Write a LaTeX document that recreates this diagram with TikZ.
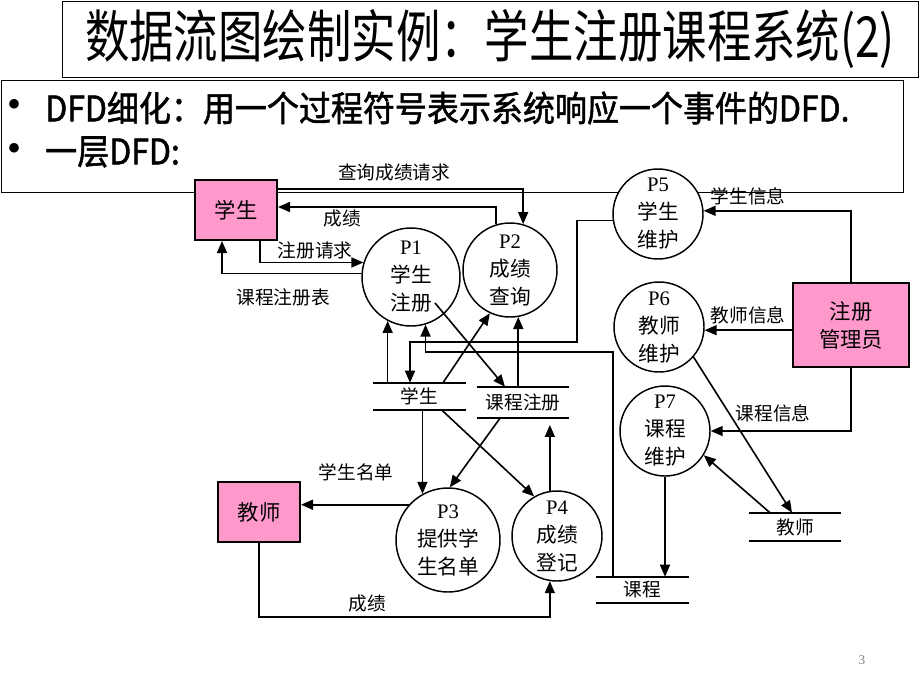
\documentclass[tikz,border=0pt]{standalone}
\usepackage{fontspec}
\usepackage{graphicx}
\setmainfont{Liberation Serif}
\newfontfamily\cjk{Noto Sans CJK SC}
\newfontfamily\cjkbold[FakeBold=1.5]{Noto Sans CJK SC}
\usetikzlibrary{arrows.meta}
\definecolor{entpink}{RGB}{255,153,204}

\tikzset{
	entity/.style={draw, line width=1.5pt, fill=entpink, minimum width=61.5pt, minimum height=45pt, align=center, font=\cjk\fontsize{16}{21}\selectfont},
	proc/.style={draw, circle, line width=1.1pt, fill=white, inner sep=0pt, minimum size=67.5pt, align=center, font=\fontsize{15.5}{21}\selectfont},
	store/.style={inner sep=0pt, minimum width=69pt, minimum height=21pt, font=\cjk\fontsize{14}{16}\selectfont},
	flowlabel/.style={inner sep=0pt, font=\cjk\fontsize{14}{16}\selectfont},
	flow/.style={->, line width=1.2pt}
}

\begin{document}
\begin{tikzpicture}[x=0.75pt, y=-0.75pt, >={Triangle[length=9pt,width=7.5pt]}]
\useasboundingbox (0,0) rectangle (920,690);

\node[draw, line width=0.75pt, minimum width=642pt, minimum height=57pt, font=\cjk\fontsize{34}{40}\selectfont] (title) at (490,39) {\scalebox{0.98}[1.25]{数据流图绘制实例：学生注册课程系统(2)}};
\node[draw, line width=0.75pt, minimum width=676.5pt, minimum height=84pt] (intro) at (452,136) {};
\foreach \yy/\txt [count=\i] in {108/{DFD细化：用一个过程符号表示系统响应一个事件的DFD.}, 152/{一层DFD:}}
{
	\node[inner sep=0pt, font=\fontsize{30}{34}\selectfont] (dot\i) at (15,\yy) {\textbullet};
	\node[anchor=west, inner sep=0pt, font=\cjkbold\fontsize{24}{28}\selectfont] (bullet\i) at (45,\yy) {\scalebox{1}[1.1]{\txt}};
}

\node[entity] (stu) at (236,210) {学生};
\node[entity, minimum width=87pt, minimum height=63pt] (adm) at (851,325) {注册\\管理员};
\node[entity] (tea) at (259,512) {教师};

\node[proc, minimum size=73.5pt] (p1) at (411,277) {P1\\{\cjk 学生}\\{\cjk 注册}};
\node[proc, minimum size=70.5pt] (p2) at (510,270) {P2\\{\cjk 成绩}\\{\cjk 查询}};
\node[proc, minimum size=78pt] (p3) at (448,540) {P3\\{\cjk 提供学}\\{\cjk 生名单}};
\node[proc] (p4) at (557,536) {P4\\{\cjk 成绩}\\{\cjk 登记}};
\node[proc] (p5) at (658,214) {P5\\{\cjk 学生}\\{\cjk 维护}};
\node[proc] (p6) at (659,327) {P6\\{\cjk 教师}\\{\cjk 维护}};
\node[proc] (p7) at (665,431) {P7\\{\cjk 课程}\\{\cjk 维护}};

\node[store, minimum height=20.25pt] (ds1) at (419.5,396.5) {学生};
\node[store, minimum height=23.25pt] (ds2) at (523,402.5) {课程注册};
\node[store] (ds3) at (795,527) {教师};
\node[store, minimum height=19.5pt] (ds4) at (642.5,590) {课程};
\foreach \s in {ds1, ds2, ds3, ds4}
{
	\draw[line width=1.2pt] (\s.north west) -- (\s.north east) (\s.south west) -- (\s.south east);
}

\draw[flow] (stu.east |- 0,189) -| (p2.74);
\draw[flow] (p2.107) |- (stu.east |- 0,207);
\draw[flow] (stu.south -| 260,0) |- (p1.163);
\draw[flow] (p1.176) -| (stu.south -| 222,0);
\draw[flow] (ds1.north -| p1.242) -- (p1.242);
\draw[flow] (p5.188) -| (577,342) -| (ds1.north -| 410,0);
\draw[flow] (ds4.north -| 613,0) |- (p1.287 |- 0,352) -- (p1.287);
\draw[flow] (p1.center) ++(24,26) -- (ds2.north -| 505,0);
\draw[flow] (ds1.north -| 443,0) -- (p2.245);
\draw[flow] (ds2.north -| p2.280) -- (p2.280);
\draw[flow] (ds1.south -| p3.119) -- (p3.119);
\draw[flow] (ds2.south -| 500,0) -- (p3.88);
\draw[flow] (ds1.south -| 442,0) -- (p4.120);
\draw[flow, shorten >=5pt] (p4.99) -- (ds2.south -| p4.99);
\draw[flow] (p3.138) -- (tea.east |- p3.138);
\draw[flow] (tea.south) |- (p4.261 |- 0,617) -- (p4.261);
\draw[flow] (adm.north) |- (p5.4);
\draw[flow] (adm.west |- p6.356) -- (p6.356);
\draw[flow] (adm.south) |- (p7.east);
\draw[flow] (p6.319) -- (ds3.north -| 792,0);
\draw[flow] (ds3.north -| 770,0) -- (p7.328);
\draw[flow] (p7.south) -- (ds4.north -| p7.south);

\node[flowlabel] (lquery) at (394,172) {查询成绩请求};
\node[flowlabel] (lgrade) at (342,218) {成绩};
\node[flowlabel] (lreg) at (315,250) {注册请求};
\node[flowlabel] (ltable) at (283,297) {课程注册表};
\node[flowlabel] (lstu) at (748,196) {学生信息};
\node[flowlabel] (ltea) at (748,315) {教师信息};
\node[flowlabel] (lcourse) at (773,413) {课程信息};
\node[flowlabel] (llist) at (356,472) {学生名单};
\node[flowlabel] (lscore) at (367,603) {成绩};

\node[text=gray, font=\fontsize{10}{12}\selectfont] (pageno) at (862,660) {3};
\end{tikzpicture}
\end{document}
